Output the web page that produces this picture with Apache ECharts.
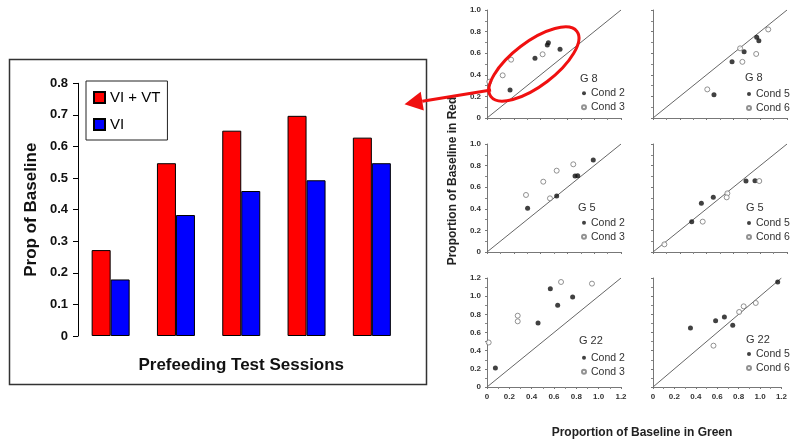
<!DOCTYPE html>
<html><head><meta charset="utf-8">
<script src="https://cdn.jsdelivr.net/npm/echarts@6/dist/echarts.min.js"></script>
<style>html,body{margin:0;padding:0;background:#fff}#c{width:790px;height:447px}</style>
</head><body><div id="c"></div>
<script>
// ---- bar chart data ----
const sessions = ['S1', 'S2', 'S3', 'S4', 'S5'];
const viVt = [0.272, 0.547, 0.650, 0.697, 0.628];
const vi = [0.179, 0.383, 0.459, 0.493, 0.547];
const barYTicks = [0, 0.1, 0.2, 0.3, 0.4, 0.5, 0.6, 0.7, 0.8];

// ---- scatter panels data [green, red] ----
const g8Cond2 = [[0.172, 0.26], [0.358, 0.553], [0.45, 0.676], [0.458, 0.697], [0.545, 0.636]];
const g8Cond3 = [[0.017, 0.336], [0.117, 0.395], [0.18, 0.54], [0.415, 0.59]];
const g8Cond5 = [[0.455, 0.216], [0.59, 0.52], [0.68, 0.614], [0.774, 0.747], [0.79, 0.716]];
const g8Cond6 = [[0.405, 0.265], [0.667, 0.52], [0.65, 0.645], [0.77, 0.593], [0.86, 0.82]];
const g5Cond2 = [[0.303, 0.404], [0.52, 0.518], [0.657, 0.704], [0.677, 0.707], [0.793, 0.852]];
const g5Cond3 = [[0.291, 0.528], [0.42, 0.651], [0.47, 0.497], [0.52, 0.753], [0.644, 0.812]];
const g5Cond5 = [[0.289, 0.281], [0.361, 0.451], [0.45, 0.506], [0.694, 0.657], [0.761, 0.66]];
const g5Cond6 = [[0.085, 0.071], [0.371, 0.281], [0.555, 0.543], [0.55, 0.506], [0.793, 0.657]];
const g22Cond2 = [[0.075, 0.21], [0.457, 0.705], [0.567, 1.083], [0.633, 0.899], [0.767, 0.991]];
const g22Cond3 = [[0.015, 0.49], [0.275, 0.785], [0.275, 0.723], [0.663, 1.156], [0.94, 1.138]];
const g22Cond5 = [[0.35, 0.65], [0.585, 0.73], [0.667, 0.77], [0.745, 0.68], [1.165, 1.156]];
const g22Cond6 = [[0.565, 0.455], [0.805, 0.826], [0.847, 0.888], [0.96, 0.925]];
const diagSmall = [[0, 0], [1.0, 1.0]];
const diagLarge = [[0, 0], [1.2, 1.2]];
const axisMaxSmall = 1.0, axisMaxLarge = 1.2;

const FONT = 'Liberation Sans, Arial, sans-serif';
const chart = echarts.init(document.getElementById('c'), null, {renderer: 'canvas'});

const colLeft = [487, 653];
const rowTop = [10, 144, 278];
const rowH = [108, 108, 109];
const panelW = 134;

const panels = [
  {row: 0, col: 0, title: 'G 8', a: 'Cond 2', b: 'Cond 3', da: g8Cond2, db: g8Cond3},
  {row: 0, col: 1, title: 'G 8', a: 'Cond 5', b: 'Cond 6', da: g8Cond5, db: g8Cond6},
  {row: 1, col: 0, title: 'G 5', a: 'Cond 2', b: 'Cond 3', da: g5Cond2, db: g5Cond3},
  {row: 1, col: 1, title: 'G 5', a: 'Cond 5', b: 'Cond 6', da: g5Cond5, db: g5Cond6},
  {row: 2, col: 0, title: 'G 22', a: 'Cond 2', b: 'Cond 3', da: g22Cond2, db: g22Cond3},
  {row: 2, col: 1, title: 'G 22', a: 'Cond 5', b: 'Cond 6', da: g22Cond5, db: g22Cond6}
];
const titlePos = [[580, 73], [745, 72], [578, 202], [746, 202], [579, 335.5], [746, 334]];
const legendPos = [[581, 87.3], [746, 88], [581, 216.7], [746, 217], [581, 351.7], [746, 348]];

const grids = [{left: 78, top: 83.3, width: 326.5, height: 252.7}];
const xAxes = [{
  type: 'category', data: sessions, gridIndex: 0,
  axisLine: {show: false}, axisTick: {show: false}, axisLabel: {show: false},
  name: 'Prefeeding Test Sessions', nameLocation: 'middle', nameGap: 21,
  nameTextStyle: {fontFamily: FONT, fontSize: 17, fontWeight: 'bold', color: '#111'}
}];
const yAxes = [{
  type: 'value', gridIndex: 0, min: barYTicks[0], max: barYTicks[barYTicks.length - 1], interval: 0.1,
  splitLine: {show: false},
  axisLine: {show: true, lineStyle: {color: '#000', width: 1}},
  axisTick: {show: true, length: 5, lineStyle: {color: '#000'}},
  axisLabel: {fontFamily: FONT, fontSize: 13, fontWeight: 'bold', color: '#111', margin: 10,
    formatter: v => (v === 0 ? '0' : v.toFixed(1))},
  name: 'Prop of Baseline', nameLocation: 'middle', nameGap: 38,
  nameTextStyle: {fontFamily: FONT, fontSize: 17, fontWeight: 'bold', color: '#111'}
}];
const titles = [];
const legends = [{
  data: [{name: 'VI + VT', icon: 'rect'}, {name: 'VI', icon: 'rect'}],
  orient: 'vertical', left: 86, top: 81, padding: [9, 7, 8, 7],
  borderColor: '#222', borderWidth: 1, backgroundColor: '#fff',
  itemWidth: 11, itemHeight: 11, itemGap: 12, selectedMode: false,
  textStyle: {fontFamily: FONT, fontSize: 15, color: '#000', lineHeight: 15}
}];
const series = [
  {name: 'VI + VT', type: 'bar', xAxisIndex: 0, yAxisIndex: 0, data: viVt, barWidth: 19, barGap: '0%',
   itemStyle: {color: '#ff0000', borderColor: '#000', borderWidth: 1}},
  {name: 'VI', type: 'bar', xAxisIndex: 0, yAxisIndex: 0, data: vi, barWidth: 19, barGap: '0%',
   itemStyle: {color: '#0000ff', borderColor: '#000', borderWidth: 1}}
];

const lab = v => (v === 0 ? '0' : v.toFixed(1));
panels.forEach((p, i) => {
  const gi = i + 1;
  const big = p.row === 2;
  const mx = big ? axisMaxLarge : axisMaxSmall;
  grids.push({left: colLeft[p.col], top: rowTop[p.row], width: panelW, height: rowH[p.row]});
  const axisCommon = {
    type: 'value', gridIndex: gi, min: 0, max: mx, interval: 0.2,
    splitLine: {show: false},
    axisLine: {show: true, lineStyle: {color: '#777', width: 1}},
    axisTick: {show: true, length: 2, lineStyle: {color: '#777'}},
    minorTick: {show: true, splitNumber: 2, length: 2, lineStyle: {color: '#888'}}
  };
  xAxes.push(Object.assign({}, axisCommon, {
    axisLabel: {show: big, fontFamily: FONT, fontSize: 8, fontWeight: 'bold', color: '#333', margin: 6, formatter: lab}
  }));
  yAxes.push(Object.assign({}, axisCommon, {
    axisLabel: {show: p.col === 0, fontFamily: FONT, fontSize: 8, fontWeight: 'bold', color: '#333', margin: 6, formatter: lab}
  }));
  titles.push({text: p.title, left: titlePos[i][0], top: titlePos[i][1], padding: 0,
    textStyle: {fontFamily: FONT, fontSize: 11, fontWeight: 'normal', color: '#333'}});
  legends.push({
    data: [{name: p.a, icon: 'circle'}, {name: p.b, icon: 'circle'}],
    orient: 'vertical', left: legendPos[i][0], top: legendPos[i][1], padding: 0,
    itemWidth: 4, itemHeight: 4, itemGap: 2, selectedMode: false,
    textStyle: {fontFamily: FONT, fontSize: 10.5, color: '#333', lineHeight: 12}
  });
  series.push({
    type: 'line', xAxisIndex: gi, yAxisIndex: gi, data: big ? diagLarge : diagSmall,
    showSymbol: false, silent: true, lineStyle: {color: '#666', width: 1}, z: 1
  });
  series.push({
    name: p.a, type: 'scatter', xAxisIndex: gi, yAxisIndex: gi, data: p.da,
    symbol: 'circle', symbolSize: 5, itemStyle: {color: '#111'}, z: 3
  });
  series.push({
    name: p.b, type: 'scatter', xAxisIndex: gi, yAxisIndex: gi, data: p.db,
    symbol: 'circle', symbolSize: 5, itemStyle: {color: '#fff', borderColor: '#777', borderWidth: 1}, z: 3
  });
});

chart.setOption({
  animation: false,
  backgroundColor: '#fff',
  textStyle: {fontFamily: FONT},
  title: titles,
  legend: legends,
  grid: grids,
  xAxis: xAxes,
  yAxis: yAxes,
  series: series
});

// ---- annotations (frame, axis titles, ellipse, arrow) ----
const ellC = chart.convertToPixel({gridIndex: 1}, [0.35, 0.5]);
const arrowStart = chart.convertToPixel({gridIndex: 1}, [0.03, 0.26]);
const c3 = chart.convertToPixel({gridIndex: 0}, [sessions[3], 0.734]);
const c4 = chart.convertToPixel({gridIndex: 0}, [sessions[4], 0.734]);
const tip = [c4[0] + (c4[0] - c3[0]) / 2, c4[1]];
const dx = tip[0] - arrowStart[0], dy = tip[1] - arrowStart[1];
const len = Math.sqrt(dx * dx + dy * dy);
const ux = dx / len, uy = dy / len;
const headLen = 18, headHalf = 9.5;
const base = [tip[0] - ux * headLen, tip[1] - uy * headLen];
const RED = '#f01010';

chart.setOption({
  graphic: [
    {type: 'rect', id: 'frame', shape: {x: 9.5, y: 59.5, width: 417, height: 325},
     style: {fill: 'none', stroke: '#333', lineWidth: 1.5}, z: -1, silent: true},
    {type: 'text', id: 'yname', x: 453, y: 181, rotation: Math.PI / 2,
     style: {text: 'Proportion of Baseline in Red', fontFamily: FONT, fontSize: 12, fontWeight: 'bold',
       fill: '#222', align: 'center', verticalAlign: 'middle'}},
    {type: 'text', id: 'xname', x: 642, y: 433,
     style: {text: 'Proportion of Baseline in Green', fontFamily: FONT, fontSize: 12, fontWeight: 'bold',
       fill: '#222', align: 'center', verticalAlign: 'middle'}},
    {type: 'ellipse', id: 'ell', x: ellC[0], y: ellC[1], rotation: 0.65,
     shape: {cx: 0, cy: 0, rx: 54, ry: 22},
     style: {fill: 'none', stroke: RED, lineWidth: 3}, z: 100},
    {type: 'polyline', id: 'arrowLine', shape: {points: [arrowStart, base]},
     style: {stroke: RED, lineWidth: 3}, z: 100},
    {type: 'polygon', id: 'arrowHead',
     shape: {points: [tip, [base[0] - uy * headHalf, base[1] + ux * headHalf], [base[0] + uy * headHalf, base[1] - ux * headHalf]]},
     style: {fill: RED}, z: 100}
  ]
});
</script>
</body></html>
